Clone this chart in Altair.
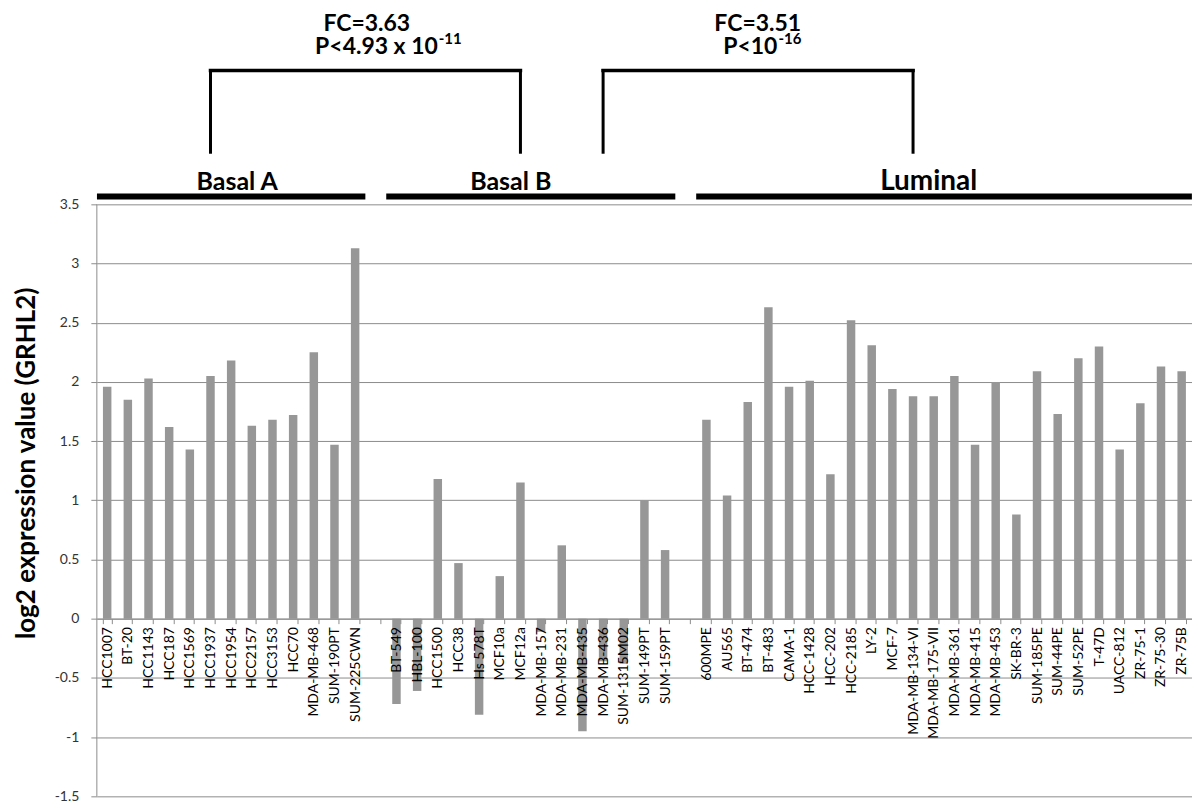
import altair as alt
import pandas as pd

# ---- data ----
basal_a = ["HCC1007", "BT-20", "HCC1143", "HCC187", "HCC1569", "HCC1937", "HCC1954",
           "HCC2157", "HCC3153", "HCC70", "MDA-MB-468", "SUM-190PT", "SUM-225CWN"]
basal_a_vals = [1.96, 1.85, 2.03, 1.62, 1.43, 2.05, 2.18, 1.63, 1.68, 1.72, 2.25, 1.47, 3.13]

basal_b = ["BT-549", "HBL-100", "HCC1500", "HCC38", "Hs 578T", "MCF10a", "MCF12a",
           "MDA-MB-157", "MDA-MB-231", "MDA-MB-435", "MDA-MB-436", "SUM-1315M02",
           "SUM-149PT", "SUM-159PT"]
basal_b_vals = [-0.72, -0.61, 1.18, 0.47, -0.81, 0.36, 1.15, -0.11, 0.62, -0.95, -0.36,
                -0.38, 1.0, 0.58]

luminal = ["600MPE", "AU565", "BT-474", "BT-483", "CAMA-1", "HCC-1428", "HCC-202",
           "HCC-2185", "LY-2", "MCF-7", "MDA-MB-134-VI", "MDA-MB-175-VII", "MDA-MB-361",
           "MDA-MB-415", "MDA-MB-453", "SK-BR-3", "SUM-185PE", "SUM-44PE", "SUM-52PE",
           "T-47D", "UACC-812", "ZR-75-1", "ZR-75-30", "ZR-75B"]
luminal_vals = [1.68, 1.04, 1.83, 2.63, 1.96, 2.01, 1.22, 2.52, 2.31, 1.94, 1.88, 1.88,
                2.05, 1.47, 2.0, 0.88, 2.09, 1.73, 2.20, 2.30, 1.43, 1.82, 2.13, 2.09]

gap1, gap2 = " ", "  "
order = basal_a + [gap1] + basal_b + [gap2] + luminal

y_ticks = [-1.5, -1, -0.5, 0, 0.5, 1, 1.5, 2, 2.5, 3, 3.5]

group_names = ["Basal A", "Basal B", "Luminal"]
group_start = ["HCC1007", "BT-549", "600MPE"]
group_end = ["SUM-225CWN", "SUM-159PT", "ZR-75B"]

bracket_left = ["HCC1937", "MDA-MB-436"]
bracket_right = ["MCF12a", "MDA-MB-134-VI"]
fc_text = ["FC=3.63", "FC=3.51"]
p_text = ["P<4.93 x 10", "P<10"]
p_exp = ["-11", "-16"]

bars = pd.DataFrame({
    "line": basal_a + basal_b + luminal,
    "value": basal_a_vals + basal_b_vals + luminal_vals,
})

# ---- layout helpers (annotation placement in data units) ----
Y_TOP = 5.085
GROUP_BAR_Y = 3.567
GROUP_LABEL_Y = 3.62
BR_TOP = 4.63
BR_BOT = 3.94
FC_Y = 4.962
P_Y = 4.77
EXP_Y = 4.855

FONT = "Lato"
GRID = "#8c8c8c"

xscale = alt.Scale(domain=order, paddingInner=0.59, paddingOuter=0.295)
yscale = alt.Scale(domain=[-1.5, Y_TOP], nice=False, zero=False)

x_axis = alt.Axis(
    title=None, labelAngle=-90, labelFont=FONT, labelFontSize=14, labelColor="#000000",
    labelPadding=3, tickBand="extent", tickSize=5, tickColor=GRID, domainColor=GRID,
    offset=-178, zindex=1, labelOverlap=False,
)
y_axis = alt.Axis(
    values=y_ticks, labelExpr="'' + datum.value", grid=True, gridColor=GRID, gridWidth=1,
    domain=False, tickColor=GRID, tickSize=6, labelPadding=12, labelFont=FONT,
    labelFontSize=14, labelColor="#333333",
    title="log2 expression value (GRHL2)", titleFont=FONT, titleFontSize=26,
    titleFontWeight="bold", titleColor="#000000", titleAngle=270, titleX=-70,
    titleY=447, titleAlign="center", titleBaseline="middle",
)

bar_layer = alt.Chart(bars).mark_bar(color="#979797").encode(
    x=alt.X("line:N", scale=xscale, axis=x_axis, sort=order),
    y=alt.Y("value:Q", scale=yscale, axis=y_axis),
)

axis_line = alt.Chart(pd.DataFrame({"lo": [y_ticks[0]], "hi": [y_ticks[-1]]})).mark_rule(
    color=GRID, strokeWidth=1
).encode(x=alt.value(0), y=alt.Y("lo:Q", scale=yscale), y2="hi:Q")

groups = pd.DataFrame({"name": group_names, "start": group_start, "end": group_end,
                       "y": [GROUP_BAR_Y] * 3})
group_bars = alt.Chart(groups).mark_rule(
    color="black", strokeWidth=6, xOffset=-6, x2Offset=6
).encode(
    x=alt.X("start:N", scale=xscale, bandPosition=0),
    x2=alt.X2("end", bandPosition=1),
    y=alt.Y("y:Q", scale=yscale),
)

label_df = pd.DataFrame({
    "name": group_names,
    "at": ["HCC1954", "MCF10a", "MDA-MB-175-VII"],
    "dx": [6, 11, -5],
    "size": [25, 25, 28],
    "y": [GROUP_LABEL_Y] * 3,
})
group_labels = []
for i in range(3):
    group_labels.append(
        alt.Chart(label_df.iloc[[i]]).mark_text(
            font=FONT, fontWeight="bold", fontSize=int(label_df["size"][i]),
            dx=int(label_df["dx"][i]), baseline="alphabetic", color="black",
        ).encode(x=alt.X("at:N", scale=xscale), y=alt.Y("y:Q", scale=yscale), text="name:N")
    )

br = pd.DataFrame({"l": bracket_left, "r": bracket_right, "top": [BR_TOP] * 2,
                   "bot": [BR_BOT] * 2})
br_h = alt.Chart(br).mark_rule(color="black", strokeWidth=3.5, strokeCap="square").encode(
    x=alt.X("l:N", scale=xscale), x2="r:N", y=alt.Y("top:Q", scale=yscale))
br_vl = alt.Chart(br).mark_rule(color="black", strokeWidth=3, strokeCap="square").encode(
    x=alt.X("l:N", scale=xscale), y=alt.Y("top:Q", scale=yscale), y2="bot:Q")
br_vr = alt.Chart(br).mark_rule(color="black", strokeWidth=3, strokeCap="square").encode(
    x=alt.X("r:N", scale=xscale), y=alt.Y("top:Q", scale=yscale), y2="bot:Q")

fc_df = pd.DataFrame({"t": fc_text, "at": [gap1, "BT-474"], "y": [FC_Y] * 2})
fc_layers = []
for i, dx in enumerate([-9, 10]):
    fc_layers.append(
        alt.Chart(fc_df.iloc[[i]]).mark_text(
            font=FONT, fontWeight="bold", fontSize=23, dx=dx, color="black",
            baseline="alphabetic",
        ).encode(x=alt.X("at:N", scale=xscale), y=alt.Y("y:Q", scale=yscale), text="t:N")
    )

p_df = pd.DataFrame({"t": p_text, "e": p_exp, "at": ["HCC1500", "BT-483"],
                     "y": [P_Y] * 2, "ye": [EXP_Y] * 2})
p_layers = []
for i, dx in enumerate([0, 9]):
    sub = p_df.iloc[[i]]
    p_layers.append(
        alt.Chart(sub).mark_text(
            font=FONT, fontWeight="bold", fontSize=23, dx=dx, align="right",
            baseline="alphabetic", color="black",
        ).encode(x=alt.X("at:N", scale=xscale), y=alt.Y("y:Q", scale=yscale), text="t:N")
    )
    p_layers.append(
        alt.Chart(sub).mark_text(
            font=FONT, fontWeight="bold", fontSize=15, dx=dx + 1, align="left",
            baseline="alphabetic", color="black",
        ).encode(x=alt.X("at:N", scale=xscale), y=alt.Y("ye:Q", scale=yscale), text="e:N")
    )

chart = alt.layer(
    bar_layer, axis_line, group_bars, *group_labels, br_h, br_vl, br_vr, *fc_layers, *p_layers
).properties(
    width=1097, height=781, autosize="none",
    padding={"left": 89, "top": 8, "right": 0, "bottom": 10},
    background="white",
).configure_view(stroke=None)

chart.save("out.html", embed_options={"renderer": "svg", "actions": False})
